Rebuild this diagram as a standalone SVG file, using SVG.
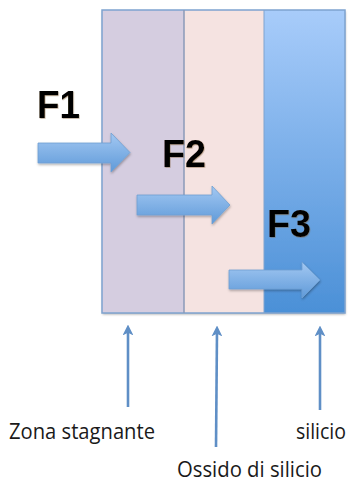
<svg xmlns="http://www.w3.org/2000/svg" width="349" height="486" viewBox="0 0 349 486">
<style>
.flabel{font-family:"Liberation Sans",Arial,sans-serif;font-weight:bold;font-size:39px;fill:#000;}
.lbl{font-family:"Open Sans","Liberation Sans",sans-serif;font-size:21px;fill:#1a1a1a;}
.fat{fill:url(#ag);stroke:#6f9fd2;stroke-width:0.8;filter:url(#sh);}
.conn{stroke:#5f8fc6;stroke-width:2.6;fill:none;marker-end:url(#ah);}
</style>
<defs>
<linearGradient id="bg" x1="0" y1="0" x2="0" y2="1">
<stop offset="0" stop-color="#a8ccfa"/>
<stop offset="1" stop-color="#4b90d7"/>
</linearGradient>
<linearGradient id="ag" x1="0" y1="0" x2="0" y2="1">
<stop offset="0" stop-color="#a3c8f2"/>
<stop offset="1" stop-color="#5f9ad9"/>
</linearGradient>
<filter id="sh" x="-20%" y="-30%" width="140%" height="170%">
<feDropShadow dx="0.5" dy="1.5" stdDeviation="1.2" flood-color="#000" flood-opacity="0.3"/>
</filter>
<filter id="ts" x="-10%" y="-10%" width="130%" height="130%">
<feDropShadow dx="0.6" dy="0.8" stdDeviation="0.6" flood-color="#7a5a30" flood-opacity="0.5"/>
</filter>
<marker id="ah" viewBox="0 0 10 10" refX="5" refY="5" markerWidth="4.2" markerHeight="4.2" orient="auto">
<path d="M0,0 L10,5 L0,10 L2.5,5 Z" fill="#5f8fc6"/>
</marker>
</defs>
<g id="layers" filter="url(#sh)">
<rect id="zona" x="102" y="10" width="82" height="303" fill="#d5cde0"/>
<rect id="ossido" x="184" y="10" width="80" height="303" fill="#f5e3e1"/>
<rect id="silicio" x="264" y="10" width="81" height="303" fill="url(#bg)"/>
</g>
<g id="borders" fill="none">
<rect x="102" y="10" width="243" height="303" stroke="#7ea3cf" stroke-width="1.5"/>
<line x1="184" y1="10" x2="184" y2="313" stroke="#8a9ab8" stroke-width="1.5"/>
<line x1="264" y1="10" x2="264" y2="313" stroke="#7ea3cf" stroke-width="1"/>
</g>
<g id="f1">
<path class="fat" d="M38,143 L111,143 L111,133 L130,152.5 L111,172 L111,163 L38,163 Z"/>
<text class="flabel" x="37" y="118" textLength="43" lengthAdjust="spacingAndGlyphs" filter="url(#ts)">F1</text>
</g>
<g id="f2">
<text class="flabel" x="162" y="167" textLength="44" lengthAdjust="spacingAndGlyphs" filter="url(#ts)">F2</text>
<path class="fat" d="M137,195 L212,195 L212,186 L230,205 L212,224 L212,215 L137,215 Z"/>
</g>
<g id="f3">
<text class="flabel" x="267" y="237" textLength="44" lengthAdjust="spacingAndGlyphs" filter="url(#ts)">F3</text>
<path class="fat" d="M229,270 L302,270 L302,262 L320,280 L302,298 L302,289 L229,289 Z"/>
</g>
<g id="connectors">
<line class="conn" x1="128" y1="407" x2="128" y2="330"/>
<line class="conn" x1="216" y1="447" x2="217" y2="331"/>
<line class="conn" x1="320" y1="410" x2="320" y2="331"/>
</g>
<g id="labels">
<text class="lbl" x="9" y="439" textLength="146" lengthAdjust="spacingAndGlyphs">Zona stagnante</text>
<text class="lbl" x="177" y="477" textLength="145" lengthAdjust="spacingAndGlyphs">Ossido di silicio</text>
<text class="lbl" x="296" y="439" textLength="50" lengthAdjust="spacingAndGlyphs">silicio</text>
</g>
</svg>
